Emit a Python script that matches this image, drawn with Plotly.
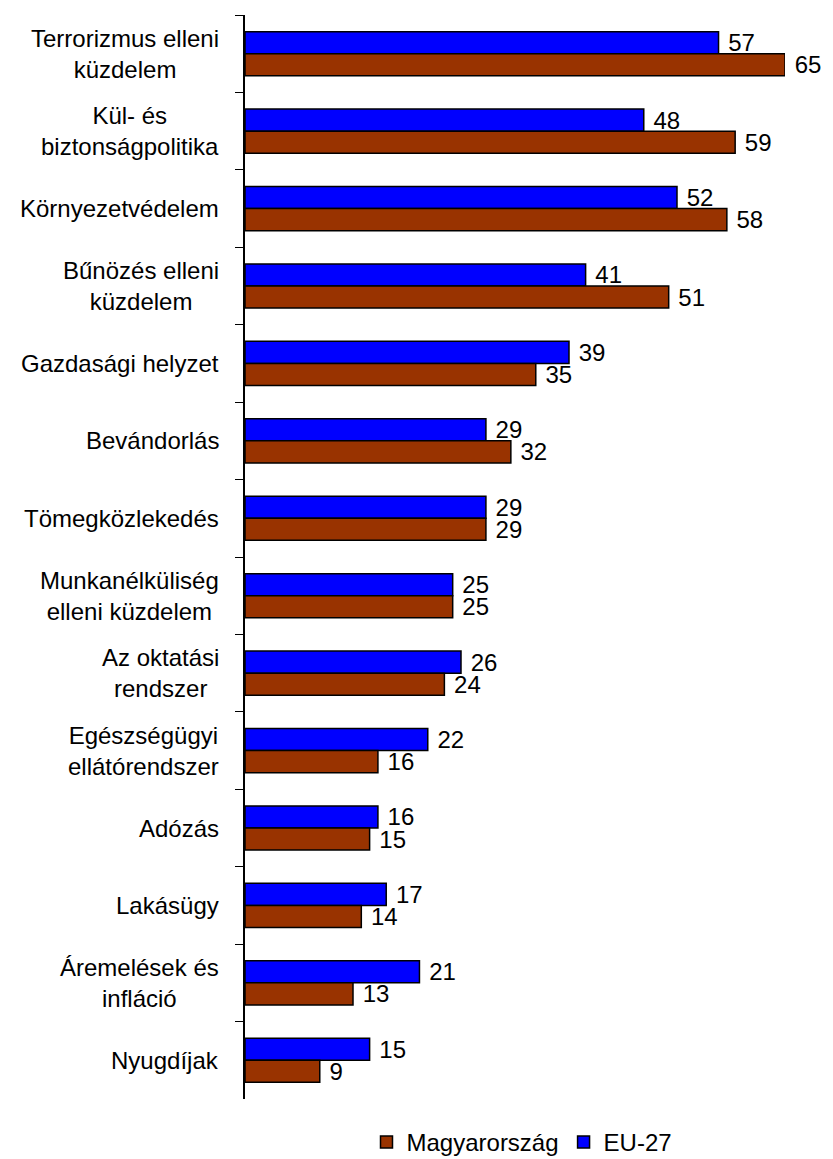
import plotly.graph_objects as go

categories = [
    "Terrorizmus elleni<br>küzdelem",
    "Kül- és<br>biztonságpolitika",
    "Környezetvédelem",
    "Bűnözés elleni<br>küzdelem",
    "Gazdasági helyzet",
    "Bevándorlás",
    "Tömegközlekedés",
    "Munkanélküliség<br>elleni küzdelem",
    "Az oktatási<br>rendszer",
    "Egészségügyi<br>ellátórendszer",
    "Adózás",
    "Lakásügy",
    "Áremelések és<br>infláció",
    "Nyugdíjak",
]
eu27 = [57, 48, 52, 41, 39, 29, 29, 25, 26, 22, 16, 17, 21, 15]
magyar = [65, 59, 58, 51, 35, 32, 29, 25, 24, 16, 15, 14, 13, 9]

font = dict(family="Liberation Sans, Arial, sans-serif", size=24, color="black")

fig = go.Figure()
fig.add_trace(go.Bar(
    y=categories, x=eu27, name="EU-27", orientation="h",
    marker=dict(color="#0000ff", line=dict(color="black", width=1.5)),
    text=eu27, texttemplate="&nbsp;%{x}", textposition="outside",
    textfont=font, cliponaxis=False,
))
fig.add_trace(go.Bar(
    y=categories, x=magyar, name="Magyarország", orientation="h",
    marker=dict(color="#993300", line=dict(color="black", width=1.5)),
    text=magyar, texttemplate="&nbsp;%{x}", textposition="outside",
    textfont=font, cliponaxis=False,
))

# category labels: lines centred on each other, block right-aligned
for c in categories:
    fig.add_annotation(
        x=0, xref="paper", y=c, yref="y", text=c, showarrow=False,
        xanchor="right", xshift=-24, align="center", font=font,
    )

# page body adds an 8px margin, so keep the figure inside the window
fig.update_layout(
    width=825, height=1151,
    margin=dict(l=237, r=48, t=7, b=60, autoexpand=False),
    paper_bgcolor="white", plot_bgcolor="white",
    barmode="group", bargap=0.43, bargroupgap=0,
    font=font,
    showlegend=True,
    legend=dict(orientation="h", x=0.225, y=-0.04, xanchor="left",
                yanchor="middle", traceorder="reversed", font=font),
    uniformtext=dict(minsize=24, mode="show"),
)
fig.update_xaxes(range=[0, 65], visible=False)
fig.update_yaxes(
    autorange="reversed", showticklabels=False, showline=True,
    linecolor="black", linewidth=1.5, ticks="outside", tickson="boundaries",
    ticklen=8, tickcolor="black", showgrid=False, zeroline=False,
)

fig.write_html("out.html")
